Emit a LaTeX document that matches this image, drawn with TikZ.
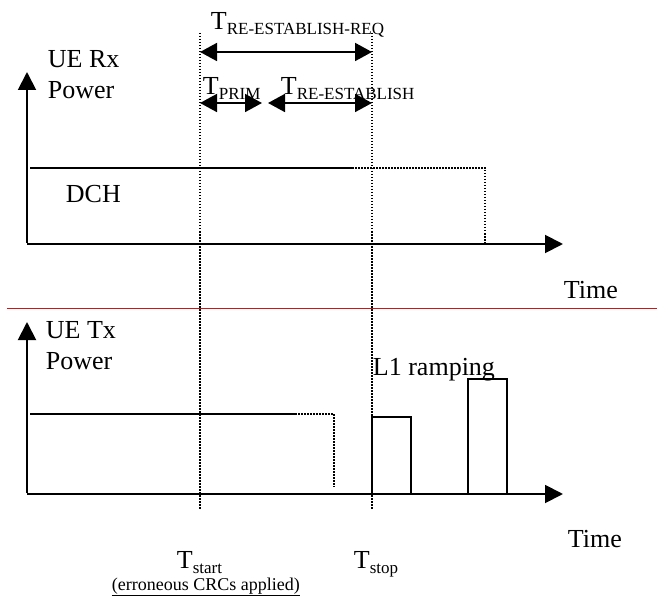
\documentclass[tikz,border=0pt]{standalone}
\usepackage{fontspec}
\setmainfont{Liberation Serif}
\usetikzlibrary{arrows.meta}
\definecolor{sepred}{RGB}{210,20,20}
\newcommand{\Tsub}[1]{T\raisebox{-5pt}{\fontsize{17}{17}\selectfont #1}}

\begin{document}
\begin{tikzpicture}[x=1pt, y=-1pt, line width=1.9pt,
  txt/.style={inner sep=0pt, anchor=base west, font=\fontsize{26}{26}\selectfont},
  tip/.style={-{Triangle[length=18pt,width=18pt]}},
  both/.style={{Triangle[length=17pt,width=18pt]}-{Triangle[length=17pt,width=18pt]}},
  dots/.style={line width=1.5pt, dash pattern=on 1.5pt off 1.5pt}]
  \useasboundingbox (0,0) rectangle (657,599);

  \coordinate (RxO) at (27,244);
  \coordinate (TxO) at (27,494);
  \coordinate (Start) at (200,33);
  \coordinate (Stop) at (372,33);

  \draw[tip] (RxO) -- (563,244);
  \draw[tip] ([yshift=1pt]RxO) -- (27,72);
  \draw[tip] (TxO) -- (563,494);
  \draw[tip] ([yshift=1pt]TxO) -- (27,322);

  \draw[dots] (Start) -- (200,509);
  \draw[dots] (Stop) -- (372,509);

  \draw[both] (200,52) -- (372,52);
  \draw[both] (200,103) -- (262,103);
  \draw[both] (268,103) -- (372,103);

  \draw (30,168) -- (352,168);
  \draw[dots] (352,168) -- (485,168) -- (485,244);
  \draw (30,414) -- (295,414);
  \draw[dots] (295,414) -- (334,414) -- (334,487);
  \draw (372,494) rectangle (411,417);
  \draw (468,494) rectangle (507,379);

  \draw[sepred, line width=1pt] (7,309) -- (657,309);

  \node[txt] (treq) at (210,30) {\Tsub{RE-ESTABLISH-REQ}};
  \node[txt] (tprim) at (202,95) {\Tsub{PRIM}};
  \node[txt] (tre) at (280,95) {\Tsub{RE-ESTABLISH}};
  \node[txt] (rxue) at (47,68) {UE Rx};
  \node[txt] (rxpow) at (47,99) {Power};
  \node[txt] (dch) at (65,203) {DCH};
  \node[txt] (timea) at (563,299) {Time};
  \node[txt] (txue) at (45,338) {UE Tx};
  \node[txt] (txpow) at (45,370) {Power};
  \node[txt] (ramp) at (372,375) {L1 ramping};
  \node[txt] (timeb) at (567,547) {Time};
  \node[txt] (tstart) at (176,568) {\Tsub{start}};
  \node[txt] (tstop) at (353,568) {\Tsub{stop}};
  \node[txt, font=\fontsize{18}{18}\selectfont] (crc) at (111,590) {\underline{(erroneous CRCs applied)}};
\end{tikzpicture}
\end{document}
